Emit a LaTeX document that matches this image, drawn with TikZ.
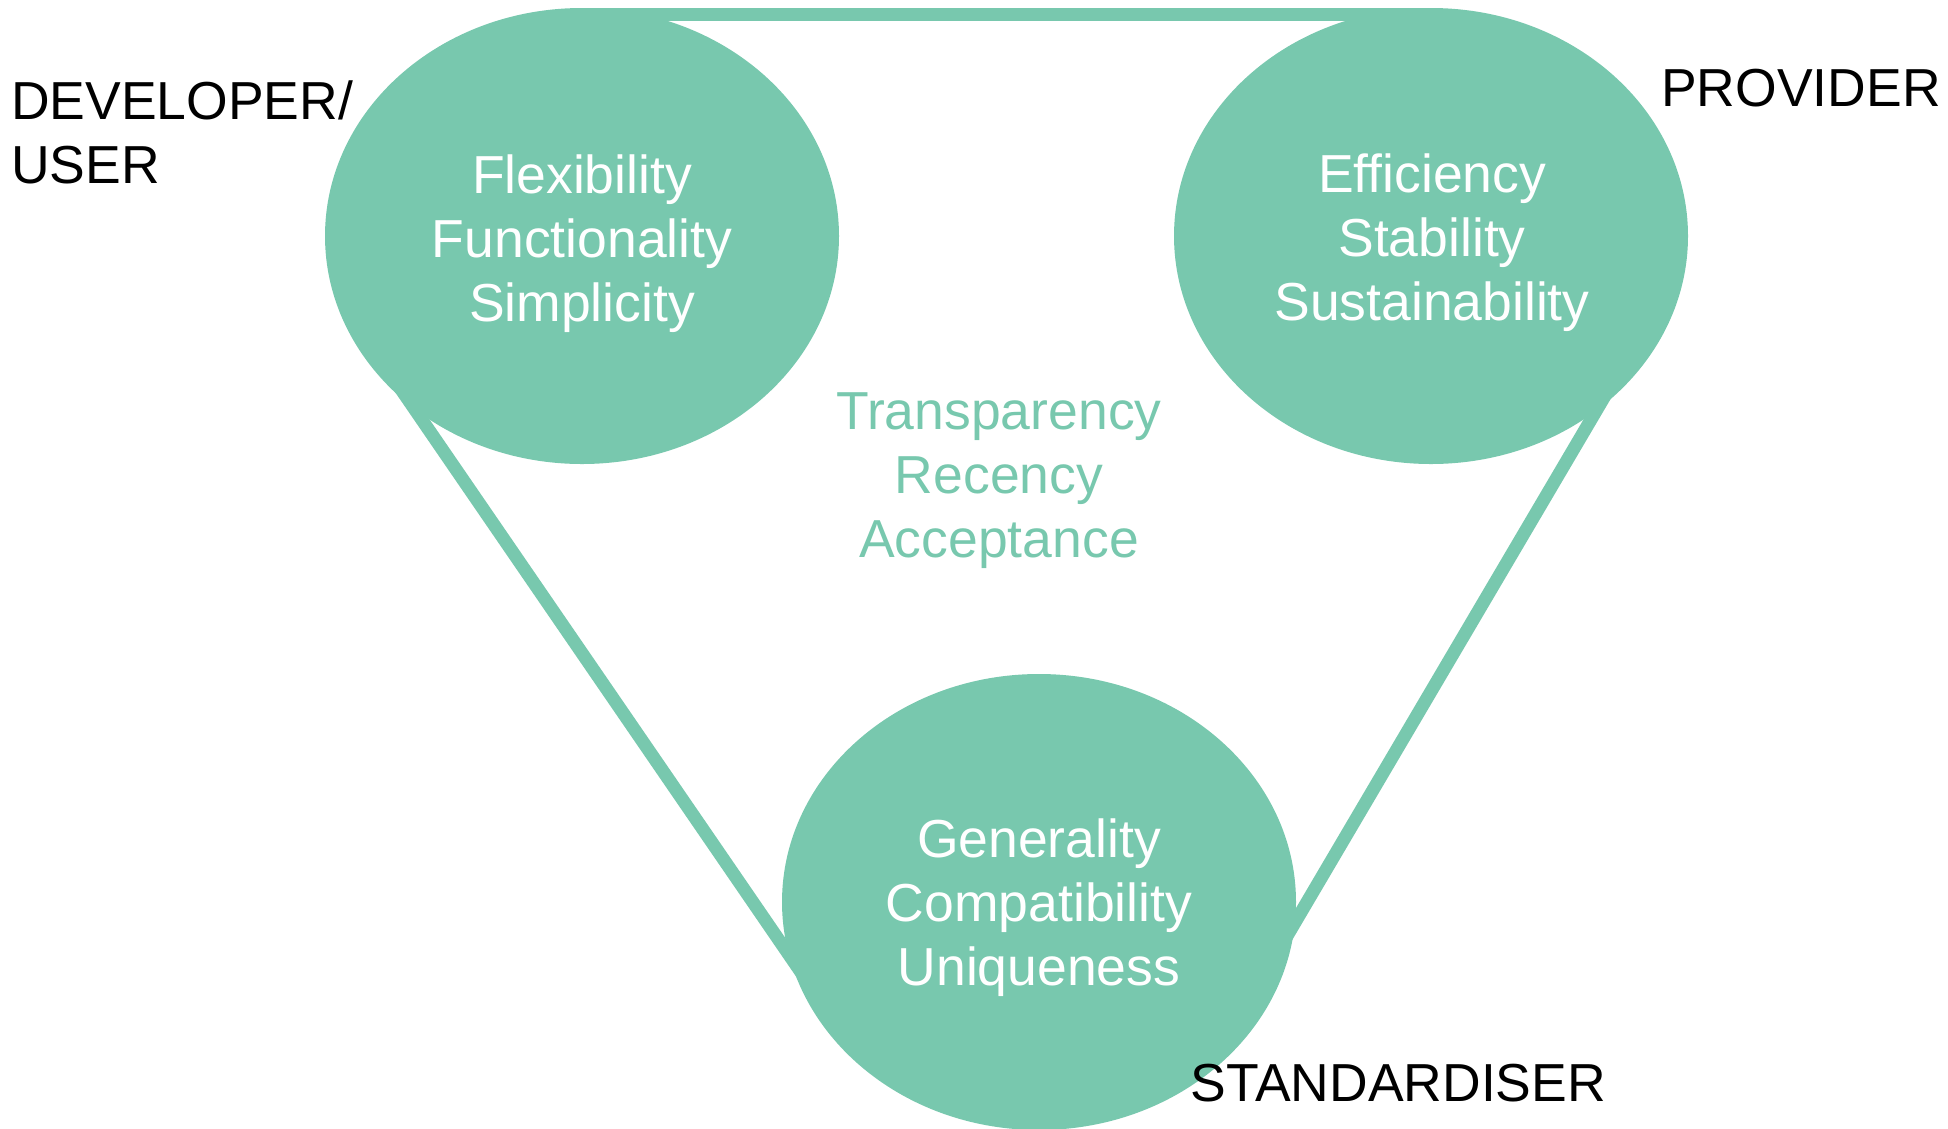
\documentclass[tikz,border=0pt]{standalone}
\usepackage{fontspec}
\setmainfont{Liberation Sans}
\usetikzlibrary{shapes.geometric,calc}
\definecolor{mint}{RGB}{120,200,174}
\tikzset{
  blob/.style={ellipse, fill=mint, draw=none, minimum width=514pt, minimum height=456pt, inner sep=0pt, outer sep=0pt},
  bond/.style={draw=mint, line width=13pt},
  words/.style={font=\fontsize{53.5}{64}\selectfont, align=center, inner sep=0pt, anchor=north},
  role/.style={font=\fontsize{53.5}{64}\selectfont, text=black, inner sep=0pt}
}
\begin{document}
\begin{tikzpicture}[x=1pt,y=-1pt]
\useasboundingbox (0,0) rectangle (1948,1128);

% the three stakeholder ellipses
\node[blob] (L) at (582,236) {};
\node[blob] (R) at (1431,236) {};
\node[blob] (B) at (1039,902) {};

% connecting bands, running along the outer sides of the ellipses
\coordinate (Ltop) at ([yshift=-6.5pt]L.north);
\coordinate (Rtop) at ([yshift=-6.5pt]R.north);
\coordinate (Lside) at ($(L.center)!236pt!-90:(B.center)$);
\coordinate (BsideL) at ($(B.center)!236pt!90:(L.center)$);
\coordinate (Rside) at ($(R.center)!231pt!90:(B.center)$);
\coordinate (BsideR) at ($(B.center)!231pt!-90:(R.center)$);
\draw[bond] (Ltop) -- (Rtop);
\draw[bond] (Lside) -- (BsideL);
\draw[bond] (Rside) -- (BsideR);

% qualities inside the ellipses
\node[words, text=white] (Ltext) at (582,155) {Flexibility\\Functionality\\Simplicity};
\node[words, text=white] (Rtext) at (1432,154) {Efficiency\\Stability\\Sustainability};
\node[words, text=white] (Btext) at (1039,818.5) {Generality\\Compatibility\\Uniqueness};

% shared qualities
\node[words, text=mint] (Ctext) at (999,392) {Transparency\\Recency\\Acceptance};

% role labels
\node[role, align=left, anchor=north west] (dev) at (11,80.5) {DEVELOPER/\\USER};
\node[role, anchor=base west] (prov) at (1661,106) {PROVIDER};
\node[role, anchor=base west] (std) at (1190.5,1101) {STANDARDISER};
\end{tikzpicture}
\end{document}
